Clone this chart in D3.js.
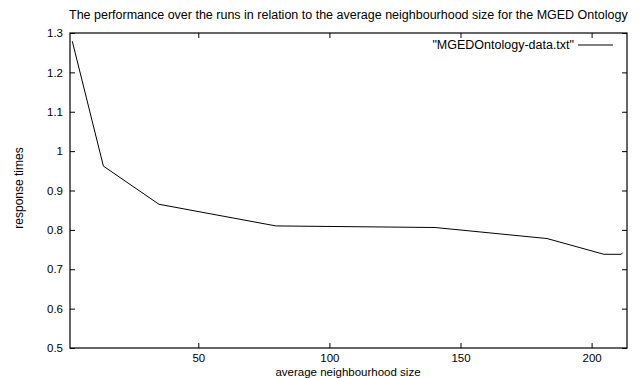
<!DOCTYPE html>
<meta charset="utf-8">
<script src="https://d3js.org/d3.v7.min.js"></script>
<style>
  body { margin: 0; background: #fff; }
  text { font-family: "Liberation Sans", Arial, sans-serif; fill: #000; }
</style>
<body>
<div id="chart"></div>
<script>
// data
var sizes = [1.95, 13.8, 35.0, 79.6, 140.3, 183.0, 204.7, 211.3, 211.8];
var times = [1.279, 0.962, 0.865, 0.810, 0.806, 0.778, 0.738, 0.738, 0.742];
var xTicks = [50, 100, 150, 200];
var yTicks = [0.5, 0.6, 0.7, 0.8, 0.9, 1, 1.1, 1.2, 1.3];

var W = 639, H = 378;
var margin = {top: 33, right: 12, bottom: 30, left: 70};
var width = W - margin.left - margin.right,
    height = H - margin.top - margin.bottom;

var svg = d3.select("#chart").append("svg")
    .attr("width", W).attr("height", H);

var g = svg.append("g")
    .attr("transform", "translate(" + margin.left + "," + margin.top + ")");

var x = d3.scaleLinear().domain([1.07, 213.5]).range([0, width]);
var y = d3.scaleLinear().domain([0.5, 1.3]).range([height, 0]);

// axes, ticks pointing inward, mirrored on top/right
function styleAxis(sel) {
  sel.select(".domain").remove();
  sel.selectAll(".tick line").attr("stroke", "#000");
  sel.selectAll(".tick text").style("font-size", "11.5px");
}
g.append("g")
  .attr("transform", "translate(0," + height + ")")
  .call(d3.axisBottom(x).tickValues(xTicks).tickSize(-5).tickPadding(6).tickFormat(d3.format("d")))
  .call(styleAxis);
g.append("g")
  .call(d3.axisTop(x).tickValues(xTicks).tickSize(-5).tickFormat(""))
  .call(styleAxis);
g.append("g")
  .call(d3.axisLeft(y).tickValues(yTicks).tickSize(-5).tickPadding(7).tickFormat(function(d) { return d3.format("")(+d.toFixed(1)); }))
  .call(styleAxis);
g.append("g")
  .attr("transform", "translate(" + width + ",0)")
  .call(d3.axisRight(y).tickValues(yTicks).tickSize(-5).tickFormat(""))
  .call(styleAxis);

g.append("rect")
  .attr("width", width).attr("height", height)
  .attr("fill", "none").attr("stroke", "#000").attr("stroke-width", 1.2);

// the series
var pts = sizes.map(function(s, i) { return [s, times[i]]; });
g.append("path")
  .datum(pts)
  .attr("fill", "none").attr("stroke", "#000").attr("stroke-width", 1)
  .attr("d", d3.line().x(function(d) { return x(d[0]); }).y(function(d) { return y(d[1]); }));

// legend
svg.append("text")
  .attr("x", 574).attr("y", 49)
  .attr("text-anchor", "end")
  .style("font-size", "12.5px")
  .text("\"MGEDOntology-data.txt\"");
svg.append("line")
  .attr("x1", 578).attr("x2", 613).attr("y1", 45).attr("y2", 45)
  .attr("stroke", "#000");

// title and axis labels
svg.append("text")
  .attr("x", 69).attr("y", 19)
  .style("font-size", "12.5px")
  .text("The performance over the runs in relation to the average neighbourhood size for the MGED Ontology");
svg.append("text")
  .attr("x", 348).attr("y", 375.5)
  .attr("text-anchor", "middle")
  .style("font-size", "11.5px")
  .text("average neighbourhood size");
svg.append("text")
  .attr("transform", "translate(23,188) rotate(-90)")
  .attr("text-anchor", "middle")
  .style("font-size", "12px")
  .text("response times");
</script>
</body>
